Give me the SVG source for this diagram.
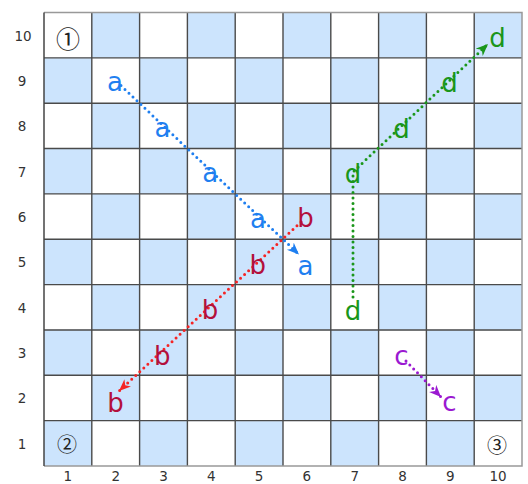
<svg xmlns="http://www.w3.org/2000/svg" width="528" height="484" viewBox="0 0 528 484">
<style>
.ax{font-family:"DejaVu Sans",Verdana,sans-serif;font-size:13.5px;fill:#333;text-anchor:middle}
.lt{font-family:"DejaVu Sans",Verdana,sans-serif;font-size:26px;text-anchor:middle}
.cn{font-family:"Noto Sans CJK JP","DejaVu Sans",sans-serif;fill:#222;text-anchor:middle;dominant-baseline:central}
.dot{fill:none;stroke-width:3;stroke-linecap:round;stroke-dasharray:0 5.5}
.a{fill:#1f7ff0}.b{fill:#b3103c}.c{fill:#9b19d1}.d{fill:#1a961a}
</style>
<defs>
<pattern id="chk" patternUnits="userSpaceOnUse" x="44" y="12.5" width="95.6" height="90.7">
<rect x="47.8" y="0" width="47.8" height="45.35" fill="#cce4fd"/>
<rect x="0" y="45.35" width="47.8" height="45.35" fill="#cce4fd"/>
</pattern>
<marker id="mA" markerUnits="userSpaceOnUse" markerWidth="13" markerHeight="11" refX="12" refY="5" orient="auto"><path d="M0,0 L12,5 L0,10 L3.5,5 Z" fill="#1f7ff0"/></marker>
<marker id="mB" markerUnits="userSpaceOnUse" markerWidth="13" markerHeight="11" refX="12" refY="5" orient="auto"><path d="M0,0 L12,5 L0,10 L3.5,5 Z" fill="#f52424"/></marker>
<marker id="mC" markerUnits="userSpaceOnUse" markerWidth="13" markerHeight="11" refX="12" refY="5" orient="auto"><path d="M0,0 L12,5 L0,10 L3.5,5 Z" fill="#9b19d1"/></marker>
<marker id="mD" markerUnits="userSpaceOnUse" markerWidth="13" markerHeight="11" refX="12" refY="5" orient="auto"><path d="M0,0 L12,5 L0,10 L3.5,5 Z" fill="#1a961a"/></marker>
</defs>
<g id="board">
<rect x="44" y="12.5" width="478" height="453.5" fill="#fff"/>
<rect x="44" y="12.5" width="478" height="453.5" fill="url(#chk)"/>
<path d="M91.8 12.5V466M139.6 12.5V466M187.4 12.5V466M235.2 12.5V466M283 12.5V466M330.8 12.5V466M378.6 12.5V466M426.4 12.5V466M474.2 12.5V466M44 57.85H522M44 103.2H522M44 148.55H522M44 193.9H522M44 239.25H522M44 284.6H522M44 329.95H522M44 375.3H522M44 420.65H522" stroke="#4a4a4a" stroke-width="1.4" fill="none"/>
<path d="M44 12.5H522V466H44" stroke="#999" stroke-width="1.5" fill="none"/>
<path d="M44 12.5V466" stroke="#444" stroke-width="1.5"/>
</g>
<g id="axis-rows">
<text class="ax" x="23" y="40.5">10</text>
<text class="ax" x="22" y="85.8">9</text>
<text class="ax" x="22" y="131.2">8</text>
<text class="ax" x="22" y="176.5">7</text>
<text class="ax" x="22" y="221.9">6</text>
<text class="ax" x="22" y="267.2">5</text>
<text class="ax" x="22" y="312.6">4</text>
<text class="ax" x="22" y="357.9">3</text>
<text class="ax" x="22" y="403.3">2</text>
<text class="ax" x="22" y="448.6">1</text>
</g>
<g id="axis-cols">
<text class="ax" x="67.9" y="480.5">1</text>
<text class="ax" x="115.7" y="480.5">2</text>
<text class="ax" x="163.5" y="480.5">3</text>
<text class="ax" x="211.3" y="480.5">4</text>
<text class="ax" x="259.1" y="480.5">5</text>
<text class="ax" x="306.9" y="480.5">6</text>
<text class="ax" x="354.7" y="480.5">7</text>
<text class="ax" x="402.5" y="480.5">8</text>
<text class="ax" x="450.3" y="480.5">9</text>
<text class="ax" x="498.1" y="480.5">10</text>
</g>
<g id="corners">
<text class="cn" x="67.9" y="37" font-size="24">①</text>
<text class="cn" x="67" y="443" font-size="20">②</text>
<text class="cn" x="497" y="444.5" font-size="20">③</text>
</g>
<g id="connectors">
<path class="dot" stroke="#1f7ff0" d="M121 85.6L299 254.5" marker-end="url(#mA)"/>
<path class="dot" stroke="#f52424" d="M301 222L119 391" marker-end="url(#mB)"/>
<path class="dot" stroke="#1a961a" d="M353 297V172L488 44" marker-end="url(#mD)"/>
<path class="dot" stroke="#9b19d1" d="M406 361L441 397" marker-end="url(#mC)"/>
</g>
<g id="a-path">
<text class="lt a" x="115" y="91">a</text>
<text class="lt a" x="162.5" y="136.5">a</text>
<text class="lt a" x="210.3" y="182">a</text>
<text class="lt a" x="258" y="227.5">a</text>
<text class="lt a" x="305.5" y="275">a</text>
</g>
<g id="b-path">
<text class="lt b" x="305.5" y="227">b</text>
<text class="lt b" x="257.8" y="273.5">b</text>
<text class="lt b" x="210" y="319">b</text>
<text class="lt b" x="162.3" y="364.5">b</text>
<text class="lt b" x="115.5" y="412">b</text>
</g>
<g id="c-path">
<text class="lt c" x="401.5" y="365">c</text>
<text class="lt c" x="449.5" y="411">c</text>
</g>
<g id="d-path">
<text class="lt d" x="353" y="320">d</text>
<text class="lt d" x="353" y="183">d</text>
<text class="lt d" x="401.5" y="137.5">d</text>
<text class="lt d" x="449.5" y="92">d</text>
<text class="lt d" x="497.5" y="47">d</text>
</g>
</svg>
